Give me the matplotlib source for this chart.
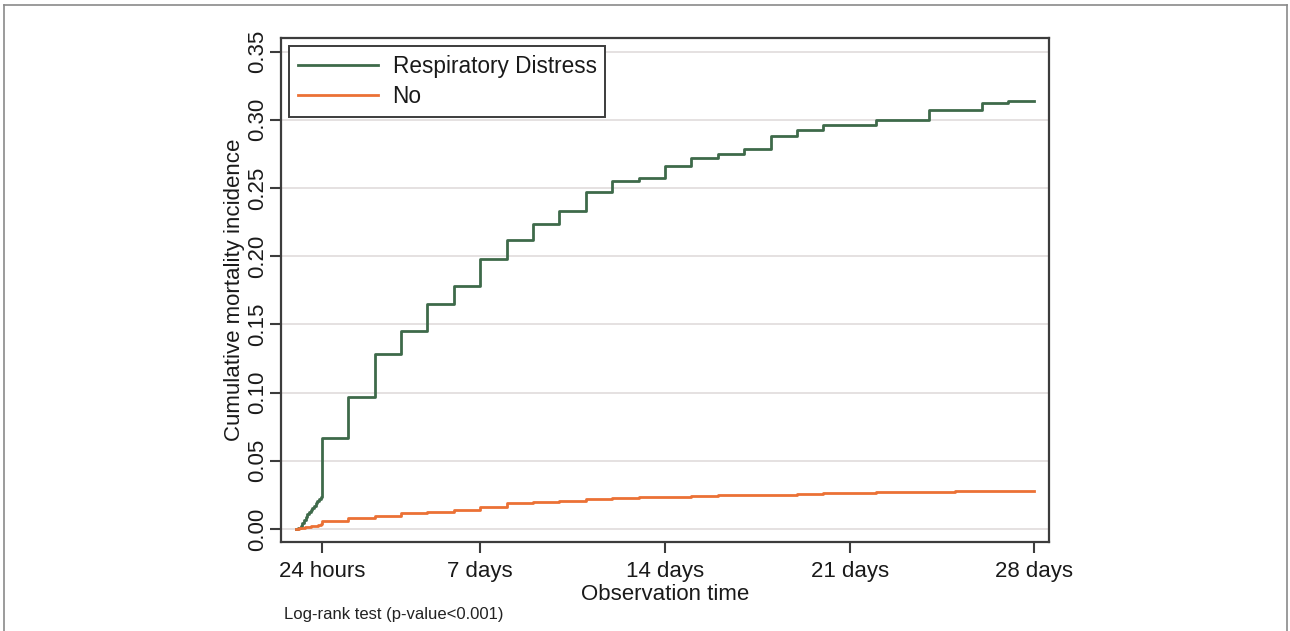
import matplotlib
matplotlib.use("Agg")
import matplotlib.pyplot as plt
from matplotlib.lines import Line2D

plt.rcParams['font.family'] = ['Liberation Sans', 'DejaVu Sans']

# ---- data (days since admission; cumulative mortality incidence) ----
rd_days = [0, 0.1, 0.19, 0.26, 0.32, 0.38, 0.44, 0.5, 0.57, 0.63, 0.69, 0.76, 0.82, 0.88, 0.95,
           0.99, 1, 2, 3, 4, 5, 6, 7, 8, 9, 10,
           11, 12, 13, 14, 15, 16, 17, 18, 19, 20, 22, 24, 26, 27, 28]
rd_vals = [0, 0.001, 0.002, 0.0045, 0.0066, 0.0088, 0.0108, 0.0124, 0.014, 0.0155, 0.017, 0.019,
           0.0208, 0.0222, 0.0237, 0.026, 0.067, 0.097, 0.128,
           0.145, 0.165, 0.178, 0.198, 0.212, 0.224, 0.2335, 0.2474, 0.2548, 0.257, 0.2665,
           0.2717, 0.2751, 0.2788, 0.288, 0.2922, 0.2961, 0.300, 0.3069, 0.312, 0.314, 0.314]

no_days = [0, 0.12, 0.24, 0.36, 0.48, 0.6, 0.72, 0.84, 0.95, 1, 2, 3, 4, 5, 6, 7, 8, 9, 10, 11,
           12, 13, 14, 15, 16, 17, 18, 19, 20, 21, 22, 23, 24, 25, 26, 27, 28]
no_vals = [0, 0.0004, 0.0009, 0.0013, 0.0017, 0.0021, 0.0025, 0.003, 0.0034, 0.006, 0.0078,
           0.0098, 0.0117, 0.0127, 0.014, 0.0164, 0.0189,
           0.0196, 0.0206, 0.022, 0.0228, 0.0232, 0.0237, 0.0242, 0.0246, 0.025, 0.0252, 0.0257,
           0.0262, 0.0267, 0.0269, 0.0274, 0.0275, 0.0277, 0.0279, 0.0281, 0.0281]

series_labels = ["Respiratory Distress", "No"]
x_ticks = [1, 7, 14, 21, 28]
x_tick_labels = ["24 hours", "7 days", "14 days", "21 days", "28 days"]
y_ticks = [0.00, 0.05, 0.10, 0.15, 0.20, 0.25, 0.30, 0.35]

W, H = 1290, 631
fig = plt.figure(figsize=(W / 100, H / 100), dpi=100)
fig.patch.set_facecolor("white")

# outer frame
frame_col = "#8a8a8a"
fig.add_artist(Line2D([4 / W, 4 / W], [0, 1 - 5 / H], transform=fig.transFigure, color=frame_col, lw=1.2))
fig.add_artist(Line2D([4 / W, 1287 / W], [1 - 5 / H, 1 - 5 / H], transform=fig.transFigure, color=frame_col, lw=1.2))
fig.add_artist(Line2D([1287 / W, 1287 / W], [0, 1 - 5 / H], transform=fig.transFigure, color=frame_col, lw=1.2))

left, right, top, bottom = 281, 1049, 38, 542
ax = fig.add_axes([left / W, 1 - bottom / H, (right - left) / W, (bottom - top) / H])

green = "#3e6a4a"
orange = "#eb7135"

ax.plot(rd_days, rd_vals, drawstyle="steps-post", color=green, lw=2.0, label=series_labels[0], zorder=3)
ax.plot(no_days, no_vals, drawstyle="steps-post", color=orange, lw=2.0, label=series_labels[1], zorder=3)

ax.set_xlim(-0.55, 28.55)
ax.set_ylim(-0.0095, 0.36)

ax.set_yticks(y_ticks)
ax.set_yticklabels([f"{v:.2f}" for v in y_ticks], rotation=90, va="center")
ax.set_xticks(x_ticks)
ax.set_xticklabels(x_tick_labels)

spine_col = "#3c3c3c"
for s in ax.spines.values():
    s.set_color(spine_col)
    s.set_linewidth(1.6)

ax.tick_params(axis="both", direction="out", length=8, width=1.5, color=spine_col,
               labelsize=16, labelcolor="#1a1a1a")
ax.tick_params(axis="y", pad=1)
ax.tick_params(axis="x", pad=6)

ax.yaxis.grid(True, color="#e3dede", lw=1.3)
ax.xaxis.grid(False)
ax.set_axisbelow(True)

ax.set_xlabel("Observation time", fontsize=16, color="#1a1a1a", labelpad=1)
ax.set_ylabel("Cumulative mortality incidence", fontsize=16, color="#1a1a1a", labelpad=2)

leg = ax.legend(loc="upper left", fontsize=16.3, frameon=True, fancybox=False, framealpha=1,
                edgecolor="#3c3c3c", handlelength=3.55, handletextpad=0.65,
                borderaxespad=0.35, labelspacing=0.33, borderpad=0.38)
leg.get_frame().set_linewidth(1.4)
for t in leg.get_texts():
    t.set_color("#1a1a1a")

fig.text(284 / W, 1 - 614 / H, "Log-rank test (p-value<0.001)", fontsize=12, color="#222222",
         ha="left", va="center")

fig.savefig("out.png", dpi=100, facecolor="white")
